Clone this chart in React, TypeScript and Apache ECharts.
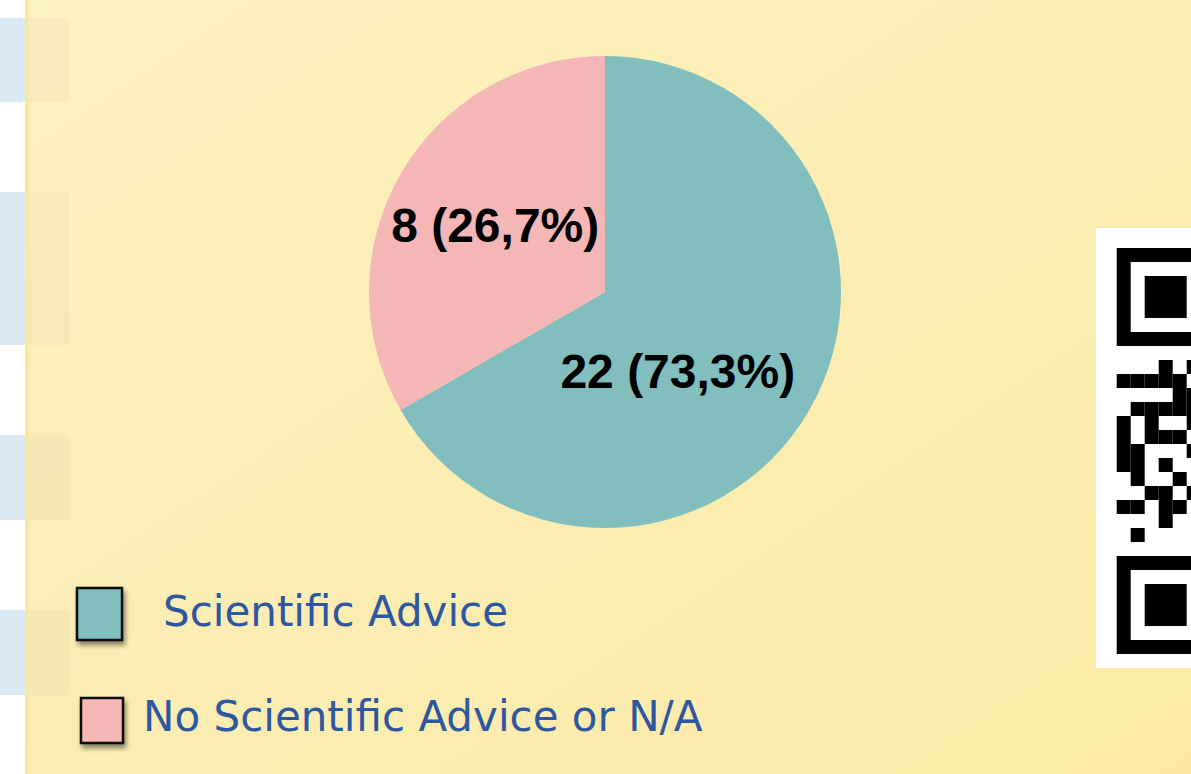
import React, { useEffect, useRef } from "react";
import * as echarts from "echarts";

// ---- data ----
const categories = ["Scientific Advice", "No Scientific Advice or N/A"];
const counts = [22, 8];
const percentLabels = ["73,3%", "26,7%"];
// slice sizes as drawn in the picture (teal ≈ 2/3, pink ≈ 1/3 of the disc)
const sliceSizes = [20, 10];
const sliceColors = ["#81BEBD", "#F5B7B5"];

// QR fragment visible at the right edge (rows 8..20, columns 0..5)
const qrDataRows = [
  [0, 0, 0, 1, 0, 1],
  [1, 1, 1, 1, 1, 0],
  [0, 0, 0, 0, 1, 1],
  [0, 1, 1, 1, 1, 1],
  [1, 0, 1, 0, 0, 1],
  [1, 0, 1, 1, 1, 0],
  [1, 1, 0, 0, 0, 1],
  [1, 1, 0, 1, 0, 0],
  [0, 1, 0, 0, 1, 0],
  [0, 0, 1, 1, 0, 1],
  [1, 1, 0, 1, 1, 0],
  [0, 0, 0, 1, 0, 0],
  [0, 1, 0, 0, 0, 0],
];
const blueBands = [
  [18, 102],
  [192, 345],
  [435, 520],
  [610, 695],
];

function buildQr(): any[] {
  const m = 14;
  const x0 = 1116.7;
  const y0 = 248;
  const els: any[] = [];
  els.push({ type: "rect", shape: { x: 1096, y: 228, width: 100, height: 440 }, style: { fill: "#FFFFFF" } });
  const finder = (row: number) => {
    const fy = y0 + row * m;
    els.push({ type: "rect", shape: { x: x0, y: fy, width: 7 * m, height: 7 * m }, style: { fill: "#000" } });
    els.push({ type: "rect", shape: { x: x0 + m, y: fy + m, width: 5 * m, height: 5 * m }, style: { fill: "#fff" } });
    els.push({ type: "rect", shape: { x: x0 + 2 * m, y: fy + 2 * m, width: 3 * m, height: 3 * m }, style: { fill: "#000" } });
  };
  finder(0);
  finder(22);
  qrDataRows.forEach((row, r) => {
    row.forEach((v, c) => {
      if (v) {
        els.push({
          type: "rect",
          shape: { x: x0 + c * m, y: y0 + (8 + r) * m, width: m, height: m },
          style: { fill: "#000" },
        });
      }
    });
  });
  return els;
}

export default function App() {
  const ref = useRef<HTMLDivElement>(null);
  useEffect(() => {
    document.body.style.margin = "0";
    const chart = echarts.init(ref.current!, undefined, { renderer: "svg" });
    const bg: any[] = [];
    bg.push({ type: "rect", shape: { x: 0, y: 0, width: 1191, height: 774 }, style: { fill: "#FFFFFF" } });
    blueBands.forEach(([a, b]) =>
      bg.push({ type: "rect", shape: { x: 0, y: a, width: 26, height: b - a }, style: { fill: "#DAEBF5" } })
    );
    bg.push({
      type: "rect",
      shape: { x: 25, y: 0, width: 1166, height: 774 },
      style: {
        fill: new echarts.graphic.LinearGradient(0, 0, 1, 1, [
          { offset: 0, color: "#FCF1C2" },
          { offset: 0.5, color: "#FBEDB3" },
          { offset: 1, color: "#FCE9A6" },
        ]),
      },
    });
    bg.push({ type: "rect", shape: { x: 25, y: 0, width: 4, height: 774 }, style: { fill: "#F9E7A3" } });
    blueBands.forEach(([a, b]) =>
      bg.push({ type: "rect", shape: { x: 29, y: a, width: 40, height: b - a }, style: { fill: "rgba(150,150,150,0.06)" } })
    );

    const legendBoxes = [
      { x: 77, y: 588, w: 45, h: 52, tx: 163, ty: 611 },
      { x: 81, y: 698, w: 42, h: 45, tx: 143, ty: 716 },
    ];
    const legendEls: any[] = [];
    categories.forEach((name, i) => {
      const b = legendBoxes[i];
      legendEls.push({
        type: "rect",
        shape: { x: b.x, y: b.y, width: b.w, height: b.h },
        style: {
          fill: sliceColors[i],
          stroke: "#111",
          lineWidth: 2.5,
          shadowColor: "rgba(0,0,0,0.45)",
          shadowBlur: 5,
          shadowOffsetX: 2,
          shadowOffsetY: 4,
        },
        z: 10,
      });
      legendEls.push({
        type: "text",
        x: b.tx,
        y: b.ty,
        style: {
          text: name,
          fontFamily: "DejaVu Sans",
          fontSize: 42,
          fill: "#2D579E",
          align: "left",
          verticalAlign: "middle",
        },
        z: 10,
      });
    });

    chart.setOption({
      animation: false,
      graphic: [...bg, ...buildQr(), ...legendEls],
      series: [
        {
          type: "pie",
          center: [605, 292],
          radius: 236,
          startAngle: 90,
          clockwise: true,
          silent: true,
          data: categories.map((name, i) => ({
            name,
            value: sliceSizes[i],
            itemStyle: { color: sliceColors[i] },
          })),
          label: {
            show: true,
            position: "inside",
            formatter: (p: any) => `${counts[p.dataIndex]} (${percentLabels[p.dataIndex]})`,
            fontFamily: "Liberation Sans",
            fontWeight: "bold",
            fontSize: 48,
            color: "#000",
          },
          labelLine: { show: false },
          labelLayout: (p: any) => (p.dataIndex === 0 ? { dx: -32, dy: 19 } : { dx: -5, dy: -6 }),
        },
      ],
    });
    return () => chart.dispose();
  }, []);
  return <div ref={ref} style={{ position: "absolute", left: 0, top: 0, width: 1191, height: 774 }} />;
}
